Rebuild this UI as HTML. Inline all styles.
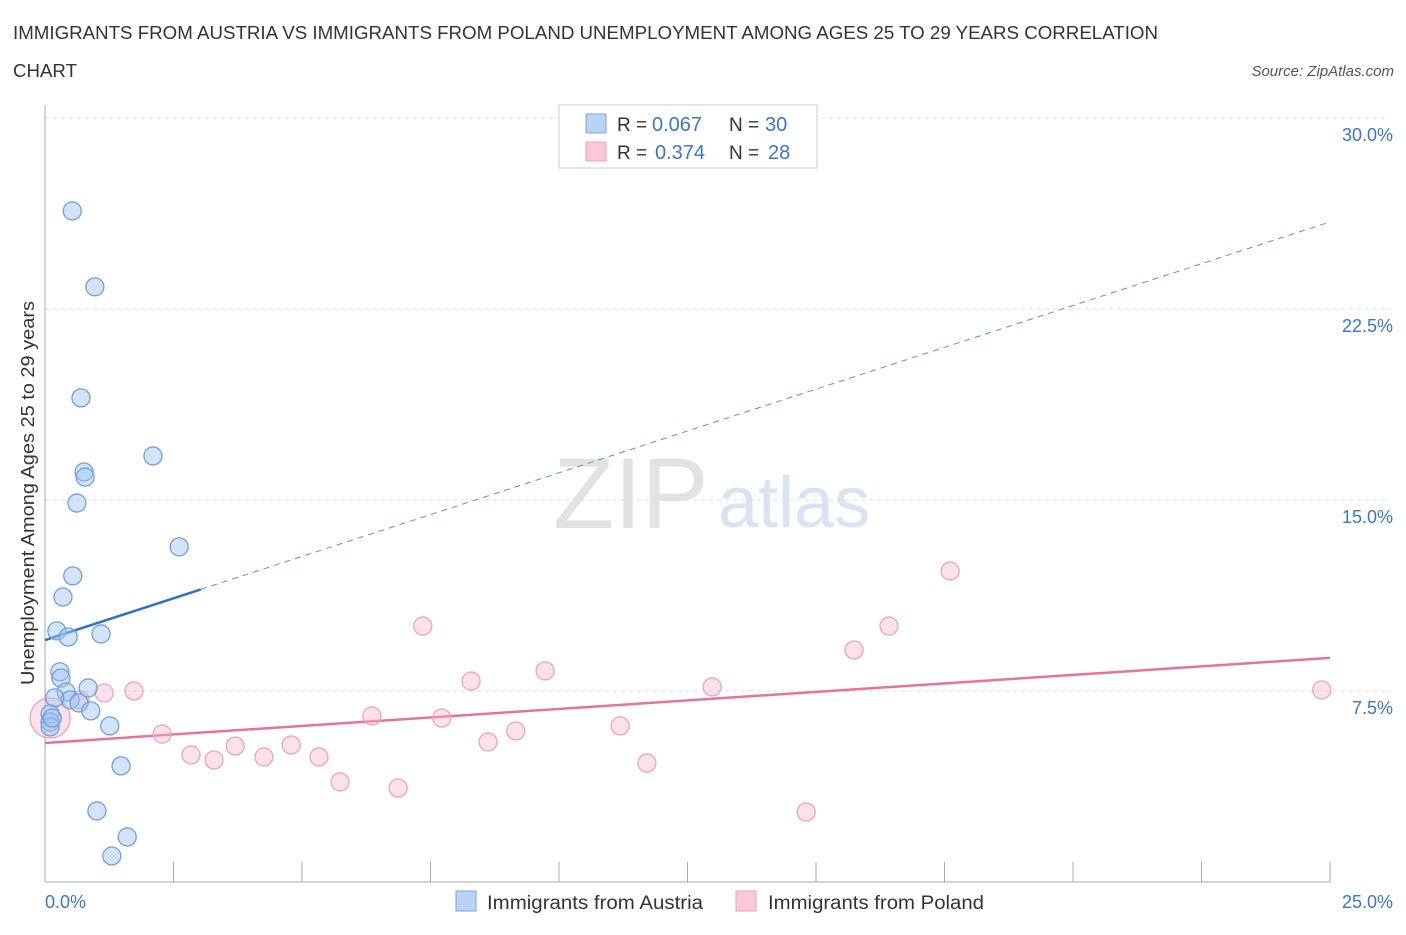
<!DOCTYPE html>
<html><head><meta charset="utf-8"><style>
body{margin:0;background:#fff;font-family:"Liberation Sans",sans-serif;}
svg text{font-family:"Liberation Sans",sans-serif;}
</style></head><body>
<svg id="chart" width="1406" height="930" viewBox="0 0 1406 930" xmlns="http://www.w3.org/2000/svg">
<text x="13" y="39" font-size="18" fill="#333" textLength="1145" lengthAdjust="spacingAndGlyphs">IMMIGRANTS FROM AUSTRIA VS IMMIGRANTS FROM POLAND UNEMPLOYMENT AMONG AGES 25 TO 29 YEARS CORRELATION</text>
<text x="13" y="77" font-size="18" fill="#333" textLength="64" lengthAdjust="spacingAndGlyphs">CHART</text>
<text x="1394" y="76" font-size="15" font-style="italic" fill="#555" text-anchor="end">Source: ZipAtlas.com</text>
<text x="553" y="528" font-size="100" font-family="Liberation Serif" fill="#e2e2e2">ZIP</text>
<text x="718" y="527" font-size="72" fill="#d8e4f4">atlas</text>
<g id="grid"></g>
<g id="axes"></g>
<g id="lines"></g>
<g id="points"></g>
<text transform="translate(34,493) rotate(-90)" font-size="18" fill="#333" text-anchor="middle" textLength="384" lengthAdjust="spacingAndGlyphs">Unemployment Among Ages 25 to 29 years</text>
<text x="45" y="908" font-size="18" fill="#3a76d0">0.0%</text>
<text x="1393" y="908" font-size="18" fill="#3a76d0" text-anchor="end">25.0%</text>
<g>
<rect x="559" y="105" width="258" height="63" fill="#fff" stroke="#ccc"/>
<rect x="586" y="114" width="20" height="19" fill="#b9d3f5" stroke="#7aa6e0"/>
<rect x="586" y="142" width="20" height="19" fill="#f9c9d8" stroke="#eea2bb"/>
<text x="617" y="131" font-size="19" fill="#333">R =</text>
<text x="652" y="131" font-size="20" fill="#3a76d0">0.067</text>
<text x="729" y="131" font-size="19" fill="#333">N =</text>
<text x="765" y="131" font-size="20" fill="#3a76d0">30</text>
<text x="617" y="159" font-size="19" fill="#333">R =</text>
<text x="655" y="159" font-size="20" fill="#3a76d0">0.374</text>
<text x="729" y="159" font-size="19" fill="#333">N =</text>
<text x="768" y="159" font-size="20" fill="#3a76d0">28</text>
</g>
<g>
<rect x="456" y="891" width="20" height="20" fill="#b9d3f5" stroke="#7aa6e0"/>
<text x="487" y="909" font-size="19" fill="#333" textLength="216" lengthAdjust="spacingAndGlyphs">Immigrants from Austria</text>
<rect x="736" y="891" width="20" height="20" fill="#f9c9d8" stroke="#eea2bb"/>
<text x="768" y="909" font-size="19" fill="#333" textLength="216" lengthAdjust="spacingAndGlyphs">Immigrants from Poland</text>
</g>
</svg>
<script>
const yTicks=[7.5,15,22.5,30];
const yTickLabels=["7.5%","15.0%","22.5%","30.0%"];
const xTicks=[0,2.5,5,7.5,10,12.5,15,17.5,20,22.5,25];
const austriaX=[0.53,0.97,0.70,0.76,0.78,0.62,2.10,2.61,0.54,0.35,0.23,0.45,1.09,0.29,0.31,0.41,0.84,0.49,0.66,0.89,0.19,1.26,1.48,1.01,1.60,1.30,0.10,0.10,0.10,0.14];
const austriaY=[26.35,23.37,19.01,16.10,15.90,14.88,16.73,13.16,12.02,11.19,9.86,9.62,9.74,8.25,8.01,7.46,7.62,7.15,7.03,6.72,7.23,6.13,4.56,2.79,1.77,1.02,6.60,6.28,6.09,6.44];
const polandX=[0.10,0.68,1.15,1.73,2.28,2.84,3.29,3.70,4.26,4.79,5.33,5.74,6.36,6.87,7.35,7.72,8.29,8.62,9.16,9.73,11.19,11.71,12.98,14.81,15.74,16.42,17.61,24.84];
const polandY=[6.44,7.15,7.42,7.50,5.81,4.99,4.79,5.34,4.91,5.38,4.91,3.93,6.52,3.69,10.05,6.44,7.89,5.50,5.93,8.29,6.13,4.67,7.66,2.75,9.11,10.05,12.21,7.54];
const austriaTrend=[9.50,25.92]; const austriaSolidEnd=3.03;
const polandTrend=[5.46,8.80];
const NS="http://www.w3.org/2000/svg";
const X=v=>45+v/25*1285, Y=v=>882-v/30*764;
function mk(tag,attrs,parent){const e=document.createElementNS(NS,tag);for(const k in attrs)e.setAttribute(k,attrs[k]);document.getElementById(parent).appendChild(e);return e;}
yTicks.forEach((t,i)=>{
 const g=mk('line',{x1:45,x2:1390,y1:Y(t),y2:Y(t),stroke:'#ddd','stroke-dasharray':'4,4'},'grid');
 
 
 const l=mk('text',{x:1393,y:Y(t)+23,'font-size':18,fill:'#3a76d0','text-anchor':'end'},'grid');
 l.textContent=yTickLabels[i];
 
 
});
const ax=mk('line',{x1:45,x2:45,y1:105,y2:882,stroke:'#aaa'},'axes');


const bx=mk('line',{x1:45,x2:1330,y1:882,y2:882,stroke:'#aaa'},'axes');


xTicks.forEach(t=>{const e=mk('line',{x1:X(t),x2:X(t),y1:862,y2:882,stroke:'#aaa'},'axes');
 
 });
function ty(tr,x){return tr[0]+(tr[1]-tr[0])*x/25;}
let e=mk('line',{x1:X(0),y1:Y(ty(austriaTrend,0)),x2:X(austriaSolidEnd),y2:Y(ty(austriaTrend,austriaSolidEnd)),stroke:'#2a6fd6','stroke-width':2.5},'lines');


e=mk('line',{x1:X(austriaSolidEnd),y1:Y(ty(austriaTrend,austriaSolidEnd)),x2:X(25),y2:Y(ty(austriaTrend,25)),stroke:'#5a8fdc','stroke-width':1,'stroke-dasharray':'6,5'},'lines');


e=mk('line',{x1:X(0),y1:Y(polandTrend[0]),x2:X(25),y2:Y(polandTrend[1]),stroke:'#e8739a','stroke-width':2.5},'lines');


polandX.forEach((x,i)=>{const c=mk('circle',{cx:X(x),cy:Y(polandY[i]),r:i===0?20:9,fill:'rgba(246,180,200,0.4)',stroke:'#eea2bb','stroke-width':1.3},'points');
 
 });
austriaX.forEach((x,i)=>{const c=mk('circle',{cx:X(x),cy:Y(austriaY[i]),r:9,fill:'rgba(160,195,240,0.45)',stroke:'#6f9fe0','stroke-width':1.3},'points');
 
 });
</script>
</body></html>
